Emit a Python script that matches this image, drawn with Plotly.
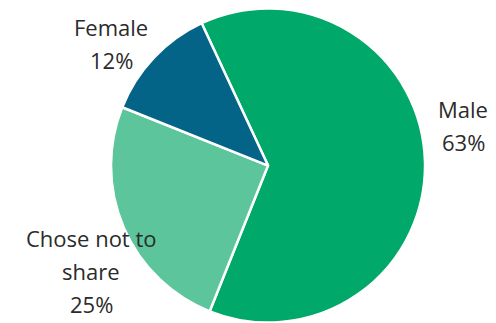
import plotly.graph_objects as go

labels = ["Male", "Chose not to share", "Female"]
values = [63, 25, 12]
colors = ["#00A86A", "#5CC59C", "#036487"]
# label text lines as shown in the chart
label_lines = [["Male", "63%"], ["Chose not to", "share", "25%"], ["Female", "12%"]]

fig = go.Figure(go.Pie(
    labels=labels, values=values, sort=False, direction="clockwise",
    rotation=-25, textinfo="none", hoverinfo="label+percent",
    marker=dict(colors=colors, line=dict(color="white", width=2.5)),
    domain=dict(x=[0.2238, 0.8569], y=[0.0, 0.975]),
    showlegend=False,
))

W, H = 496, 323
# label anchor positions (pixels: center x, first-line y) and line spacing
pos = [(463, 109), (91, 238), (111, 27)]
spacing = 33
anns = []
for (cx, cy), lines in zip(pos, label_lines):
    for i, t in enumerate(lines):
        anns.append(dict(
            text=t, x=cx / W, y=1 - (cy + i * spacing) / H,
            xref="paper", yref="paper", showarrow=False,
            xanchor="center", yanchor="middle",
            font=dict(family="Open Sans", size=22, color="#2b2b2b"),
        ))

fig.update_layout(
    width=W, height=H, margin=dict(l=0, r=0, t=0, b=0),
    paper_bgcolor="white", plot_bgcolor="white",
    annotations=anns,
)
fig.write_html("out.html")
